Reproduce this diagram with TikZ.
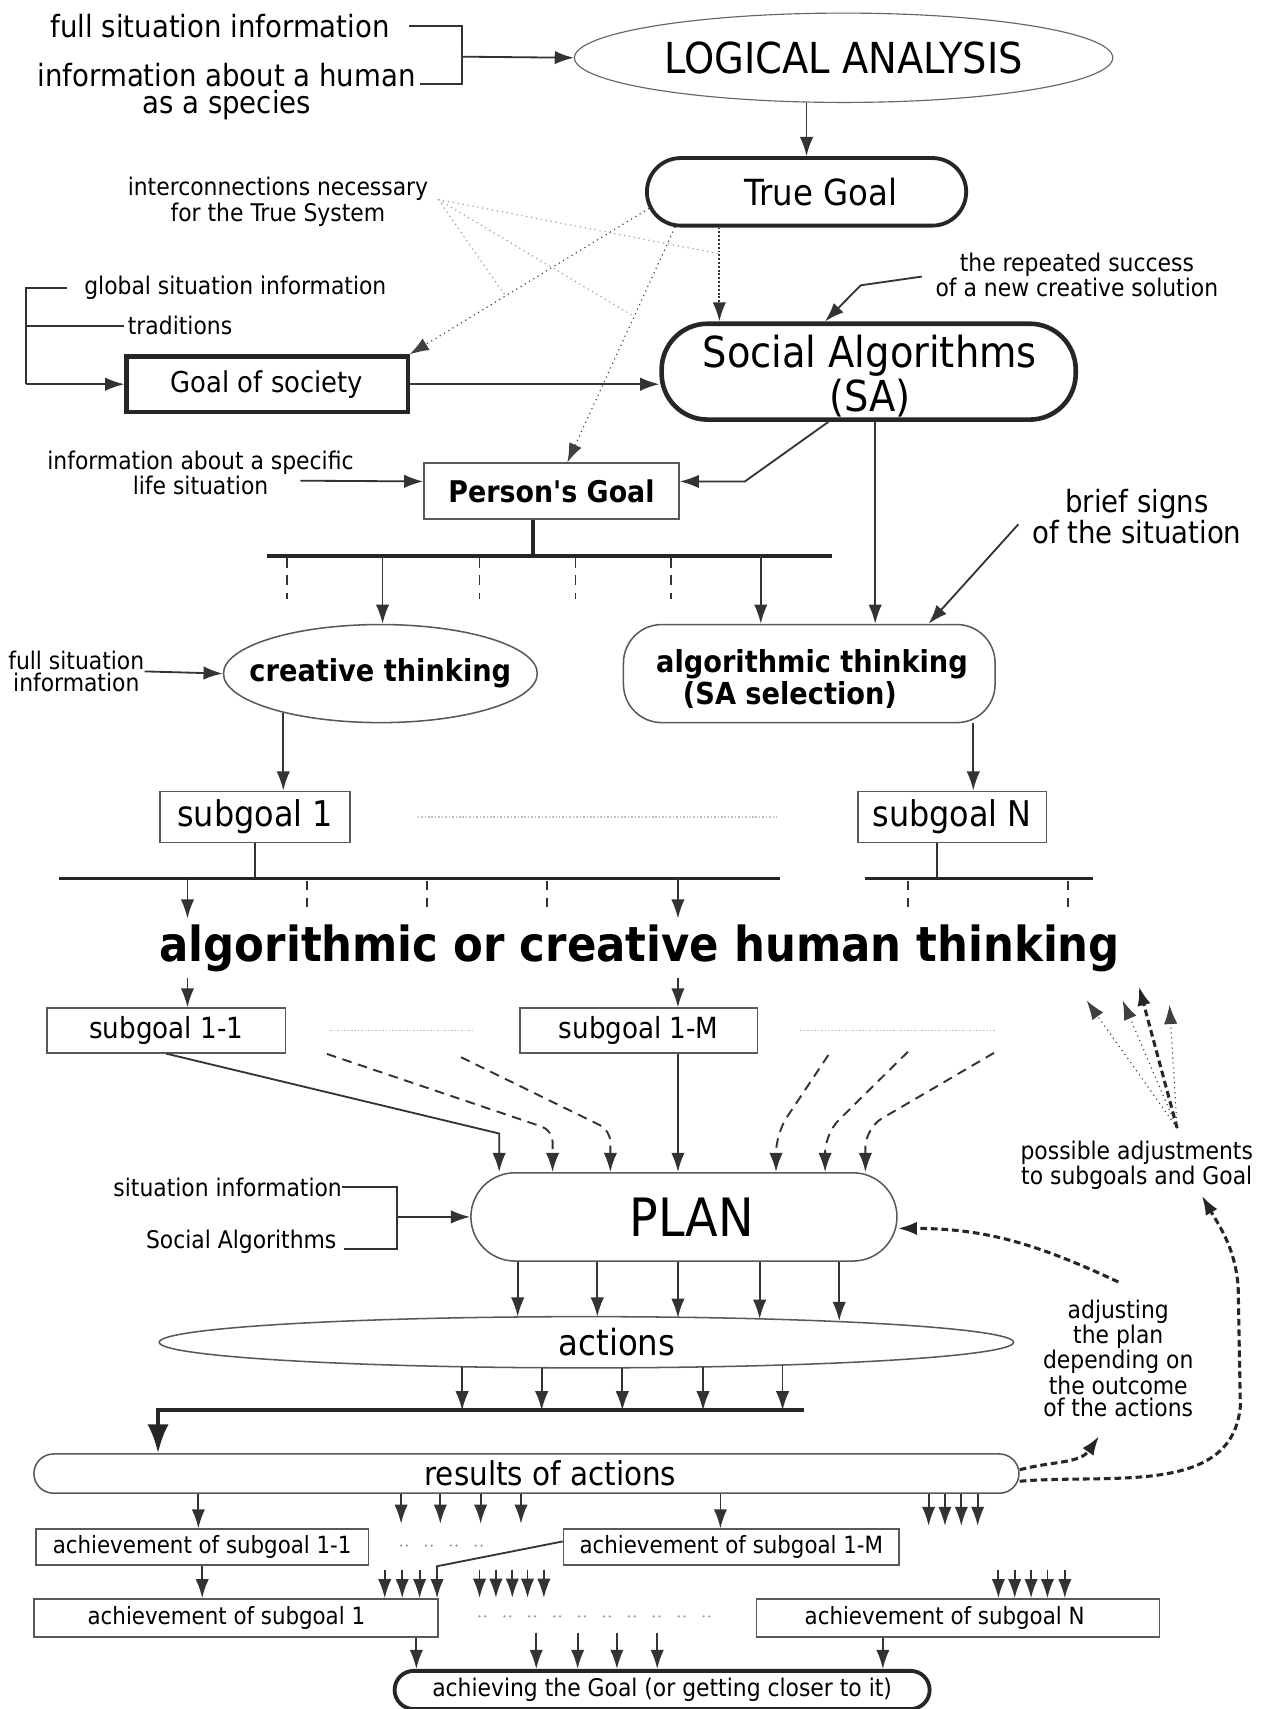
\documentclass[tikz,border=0pt]{standalone}
\usepackage{fontspec}
\setmainfont{DejaVu Sans Condensed}
\usetikzlibrary{shapes.geometric,shapes.misc,arrows.meta,calc}

\tikzset{
  >={Latex[length=10pt,width=7pt]},
  ln/.style={draw=black!80, line width=0.95pt},
  heavyln/.style={draw=black!85, line width=2pt},
  dashln/.style={draw=black!80, line width=1pt, dash pattern=on 5pt off 3.5pt},
  dashthick/.style={draw=black!85, line width=1.6pt, dash pattern=on 3.5pt off 2pt},
  dotln/.style={draw=black!75, line width=0.6pt, dotted},
  fanln/.style={draw=black!40, line width=0.6pt, dotted},
  faint/.style={draw=black!25, line width=0.8pt, densely dotted},
  tickln/.style={draw=black!80, line width=0.95pt, dash pattern=on 5pt off 4pt},
  dotrow/.style={draw=black!40, line width=1.3pt, line cap=round, dash pattern=on 0pt off 3pt on 0pt off 10pt},
  smalltxt/.style={font=\fontsize{12.7}{11.4}\selectfont, align=center, inner sep=0pt},
  midtxt/.style={font=\fontsize{16}{14.4}\selectfont, align=center, inner sep=0pt},
  thinbox/.style={draw=black!65, line width=0.8pt, inner sep=0pt, align=center},
  heavybox/.style={draw=black!85, line width=2pt, inner sep=0pt, align=center},
}

\begin{document}
\begin{tikzpicture}[x=0.02cm,y=-0.02cm]
\useasboundingbox[fill=white] (0,0) rectangle (1161,1568);

% upper part
\node[midtxt] (fullinfo) at (202,24) {full situation information};
\node[midtxt] (human) at (208,84) {information about a human\\as a species};
\node[draw=black!60, line width=0.6pt, ellipse, minimum width=9.88cm, minimum height=1.64cm, inner sep=0pt, font=\fontsize{22.3}{22}\selectfont] (logic) at (774,53) {LOGICAL ANALYSIS};
\node[heavybox, rounded rectangle, minimum width=5.86cm, minimum height=1.24cm, font=\fontsize{18.8}{18.8}\selectfont] (truegoal) at (740,176) {\hspace*{15pt}True Goal};
\node[smalltxt] (inter) at (255,185) {interconnections necessary\\for the True System};
\node[smalltxt] (repeat) at (988,252) {the repeated success\\of a new creative solution};
\node[heavybox, line width=2.4pt, rounded corners=24pt, minimum width=7.6cm, minimum height=1.76cm] (sa) at (797,341) {};
\node[font=\fontsize{22.3}{19.6}\selectfont, align=center, inner sep=0pt] (satxt) at (798,345) {Social Algorithms\\(SA)};
\node[smalltxt, anchor=west] (global) at (77,264) {global situation information};
\node[smalltxt, anchor=west] (trad) at (117,299) {traditions};
\node[heavybox, line width=2.2pt, minimum width=5.16cm, minimum height=1.02cm, font=\fontsize{15}{15}\selectfont] (society) at (245,352.5) {Goal of society};
\node[smalltxt] (specific) at (184,434) {information about a specific\\life situation};
\node[thinbox, minimum width=4.68cm, minimum height=1.02cm, font=\bfseries\fontsize{15.6}{15.6}\selectfont] (person) at (506,450.5) {Person\textquotesingle s Goal};
\node[midtxt] (brief) at (1043,474) {brief signs\\of the situation};

% thinking
\node[thinbox, ellipse, minimum width=5.76cm, minimum height=1.8cm] (creative) at (349,618) {};
\node[font=\bfseries\fontsize{15.8}{15.8}\selectfont, inner sep=0pt] (creativetxt) at (creative) {creative thinking};
\node[thinbox, rounded corners=20pt, minimum width=6.82cm, minimum height=1.8cm] (algo) at (742.5,618) {};
\node[align=left, inner sep=0pt, font=\bfseries\fontsize{15.8}{13.4}\selectfont] (algotxt) at (745,623) {algorithmic thinking\\\hspace*{14pt}(SA selection)};
\node[smalltxt] (fullsit) at (70,616) {full situation\\information};
\node[thinbox, minimum width=3.48cm, minimum height=0.94cm, font=\fontsize{18.5}{18.5}\selectfont] (sub1) at (234,749.5) {subgoal 1};
\node[thinbox, minimum width=3.46cm, minimum height=0.94cm, font=\fontsize{18.5}{18.5}\selectfont] (subN) at (873.5,749.5) {subgoal N};
\node[font=\bfseries\fontsize{25.2}{25.2}\selectfont, inner sep=3pt] (think) at (587,870) {algorithmic or creative human thinking};
\node[thinbox, minimum width=4.38cm, minimum height=0.82cm, font=\fontsize{15.2}{15.2}\selectfont] (sub11) at (152.5,945.5) {subgoal 1-1};
\node[thinbox, minimum width=4.36cm, minimum height=0.82cm, font=\fontsize{15.2}{15.2}\selectfont] (sub1M) at (586,945.5) {subgoal 1-M};

% plan and actions
\node[thinbox, rounded rectangle, minimum width=7.82cm, minimum height=1.62cm, font=\fontsize{27.6}{27.6}\selectfont] (plan) at (627.5,1116.5) {\hspace*{8pt}PLAN};
\node[smalltxt, anchor=east] (sitinfo) at (314,1089) {situation information};
\node[smalltxt, anchor=east] (socalg) at (309,1139) {Social Algorithms};
\node[smalltxt] (possible) at (1043,1069) {possible adjustments\\to subgoals and Goal};
\node[smalltxt] (adjust) at (1026,1246) {adjusting\\the plan\\depending on\\the outcome\\of the actions};
\node[thinbox, ellipse, minimum width=15.68cm, minimum height=0.94cm, font=\fontsize{18.8}{18.8}\selectfont] (actions) at (538,1231.5) {\hspace*{32pt}actions};
\node[thinbox, rounded rectangle, minimum width=18.08cm, minimum height=0.72cm, font=\fontsize{17.1}{17.1}\selectfont] (results) at (483,1352) {\hspace*{25pt}results of actions};

% achievements
\node[thinbox, minimum width=6.1cm, minimum height=0.66cm, font=\fontsize{12.4}{12.4}\selectfont] (ach11) at (185.5,1419.5) {achievement of subgoal 1-1};
\node[thinbox, minimum width=6.16cm, minimum height=0.66cm, font=\fontsize{12.4}{12.4}\selectfont] (ach1M) at (671,1419.5) {achievement of subgoal 1-M};
\node[thinbox, minimum width=7.42cm, minimum height=0.7cm, font=\fontsize{12.4}{12.4}\selectfont] (ach1) at (216.5,1484.5) {achievement of subgoal 1\hspace*{10pt}};
\node[thinbox, minimum width=7.4cm, minimum height=0.7cm, font=\fontsize{12.4}{12.4}\selectfont] (achN) at (879,1484.5) {achievement of subgoal N\hspace*{14pt}};
\node[heavybox, rounded rectangle, minimum width=9.82cm, minimum height=0.7cm, font=\fontsize{12.7}{12.7}\selectfont] (final) at (607.5,1550.5) {achieving the Goal (or getting closer to it)};

% connectors, top
\coordinate (topjoin) at (424,52);
\draw[ln] ([xshift=10pt]fullinfo.east) -| (topjoin) |- ([xshift=2pt,yshift=4pt]human.east);
\draw[ln,->] (topjoin) -- (logic.west);
\draw[ln,->] (truegoal.north |- logic.south) -- (truegoal.north);

\draw[dotln,->] (truegoal.186) -- (society.north east);
\draw[dotln,->] (truegoal.195) -- (person.61);
\draw[ln, line width=1pt, densely dotted, ->] (660,0 |- truegoal.south) -- (660,0 |- sa.north);
\coordinate (intersrc) at (402,183);
\draw[fanln] (intersrc) -- ($(660,0 |- truegoal.south)!0.28!(660,0 |- sa.north)$);
\draw[fanln] (intersrc) -- ($(truegoal.195)!0.38!(person.61)$);
\draw[fanln] (intersrc) -- ($(truegoal.186)!0.6!(society.north east)$);

\draw[ln,->] ([xshift=-7pt,yshift=-1pt]repeat.west) -- ++(-56,8) -- (757,0 |- sa.north);

\coordinate (socin) at (24,0 |- society.west);
\draw[ln] ([xshift=-9pt]global.west) -| (socin);
\draw[ln] ([xshift=-2pt]trad.west) -- (24,0 |- trad.west);
\draw[ln,->] (socin) -- (society.west);
\draw[ln,->] (society.east) -- (society.east -| sa.west);

\draw[ln,->] ([xshift=-28pt,yshift=-4pt]specific.east) -- ([yshift=5pt]person.west);
\draw[ln,->] (760,0 |- sa.south) -- ([xshift=34pt,yshift=5pt]person.east) -- ([yshift=5pt]person.east);
\draw[ln,->] (803,0 |- sa.south) -- (803,0 |- algo.north);
\draw[ln,->] ([xshift=-7pt,yshift=-4pt]brief.west) -- (852,0 |- algo.north);

% branching under person's goal
\coordinate (pbar) at (489,510);
\draw[heavyln] (489,0 |- person.south) -- (pbar);
\draw[heavyln] (245,510) -- (763,510);
\foreach \x in {263,440,528,616} \draw[tickln] (\x,512) -- (\x,550);
\draw[ln,->] (351,510) -- (351,0 |- creative.north);
\draw[ln,->] (698,510) -- (698,0 |- algo.north);
\draw[ln,->] (fullsit.east) -- (creative.west);

\draw[ln,->] (creative.202.5) -- (creative.202.5 |- sub1.north);
\draw[ln,->] (893,0 |- algo.south) -- (893,0 |- subN.north);
\draw[faint] ([xshift=35pt]sub1.east) -- ([xshift=-42pt]subN.west);

\draw[ln] (sub1.south) -- (234,806);
\draw[heavyln] (54,806) -- (716,806);
\draw[ln] (860,0 |- subN.south) -- (860,806);
\draw[heavyln] (794,806) -- (1003,806);
\foreach \x in {282,392,502,833,980} \draw[tickln] (\x,808) -- (\x,836);
\draw[ln,->] (172,806) -- (172,0 |- think.north);
\draw[ln,->] (622,806) -- (622,0 |- think.north);
\draw[ln,->] (172,0 |- think.south) -- (172,0 |- sub11.north);
\draw[ln,->] (622,0 |- think.south) -- (622,0 |- sub1M.north);
\draw[faint] ([xshift=23pt]sub11.east) -- ([xshift=-23pt]sub1M.west);
\draw[faint] ([xshift=22pt]sub1M.east) -- ++(180,0);

% into the plan
\draw[ln,->] (sub11.south) -- (458,1040) -- (458,0 |- plan.north);
\draw[dashln,->,rounded corners=6pt] (300,967) -- (507,1037) -- (507,0 |- plan.north);
\draw[dashln,->,rounded corners=6pt] (423,970) -- (560,1037) -- (560,0 |- plan.north);
\draw[ln,->] (622,0 |- sub1M.south) -- (622,0 |- plan.north);
\draw[dashln,->,rounded corners=10pt] (760,968) -- (712,1040) -- (712,0 |- plan.north);
\draw[dashln,->,rounded corners=10pt] (833,965) -- (757,1040) -- (757,0 |- plan.north);
\draw[dashln,->,rounded corners=10pt] (912,966) -- (794,1035) -- (794,0 |- plan.north);

\coordinate (planin) at (364,0 |- plan.west);
\draw[ln] (sitinfo.east) -| (planin) |- ([xshift=4pt,yshift=-4pt]socalg.east);
\draw[ln,->] (planin) -- (plan.west);

\coordinate (fan) at (1080,1035);
\draw[dotln,->] (fan) -- ++(-83,-117);
\draw[dotln,->] (fan) -- ++(-50,-117);
\draw[dashthick,->] (fan) -- ++(-35,-130);
\draw[dotln,->] (fan) -- ++(-7,-113);
\draw[dashthick,->] ([yshift=9pt]adjust.north) to[out=155,in=0] ([yshift=-6pt]plan.east);

% actions and results
\foreach \x/\y in {475/1208,548/1208,622/1209,697/1210,770/1212}
  \draw[ln,->] (\x,0 |- plan.south) -- (\x,\y);
\foreach \x/\y in {424/1254,497/1255,571/1255,645/1254,718/1252}
  \draw[ln,->] (\x,\y) -- (\x,1294);
\draw[heavyln, -{Latex[length=15pt,width=11pt]}] (738,1294) -- (145,1294) -- (145,0 |- results.north);

\draw[dashthick,->] ([yshift=2pt]results.east) to[out=15,in=235] ([xshift=-10pt,yshift=-10pt]adjust.south);
\draw[dashthick,->] ([yshift=-4pt]results.east) to[out=5,in=-95] (1138,1290) -- (1136,1180) to[out=95,in=-60] ([xshift=34pt,yshift=-3pt]possible.south);

\draw[ln,->] (182,0 |- results.south) -- (182,0 |- ach11.north);
\foreach \x in {368,404,441,478} \draw[ln,->] (\x,0 |- results.south) -- (\x,1398);
\draw[ln,->] (661,0 |- results.south) -- (661,0 |- ach1M.north);
\foreach \x in {852,867,882,897} \draw[ln,->] (\x,0 |- results.south) -- (\x,1400);

\draw[dotrow] (368,1418) -- (455,1418);
\draw[dotrow] (440,1483) -- (665,1483);
\draw[ln,->] (ach11.south) -- (ach11.south |- ach1.north);
\draw[ln,->] ([yshift=3pt]ach1M.west) -- (401,1437) -- (401,0 |- ach1.north);
\foreach \x in {353,369,385} \draw[ln,->] (\x,1440) -- (\x,0 |- ach1.north);
\foreach \x in {440,455,470,484,499} \draw[ln,->] (\x,1440) -- (\x,1466);
\foreach \x in {916,931,946,961,977} \draw[ln,->] (\x,1440) -- (\x,0 |- achN.north);

\draw[ln,->] (382,0 |- ach1.south) -- (382,0 |- final.north);
\foreach \x in {492,530,566,603} \draw[ln,->] (\x,1498) -- (\x,0 |- final.north);
\draw[ln,->] (810,0 |- achN.south) -- (810,0 |- final.north);

\end{tikzpicture}
\end{document}
